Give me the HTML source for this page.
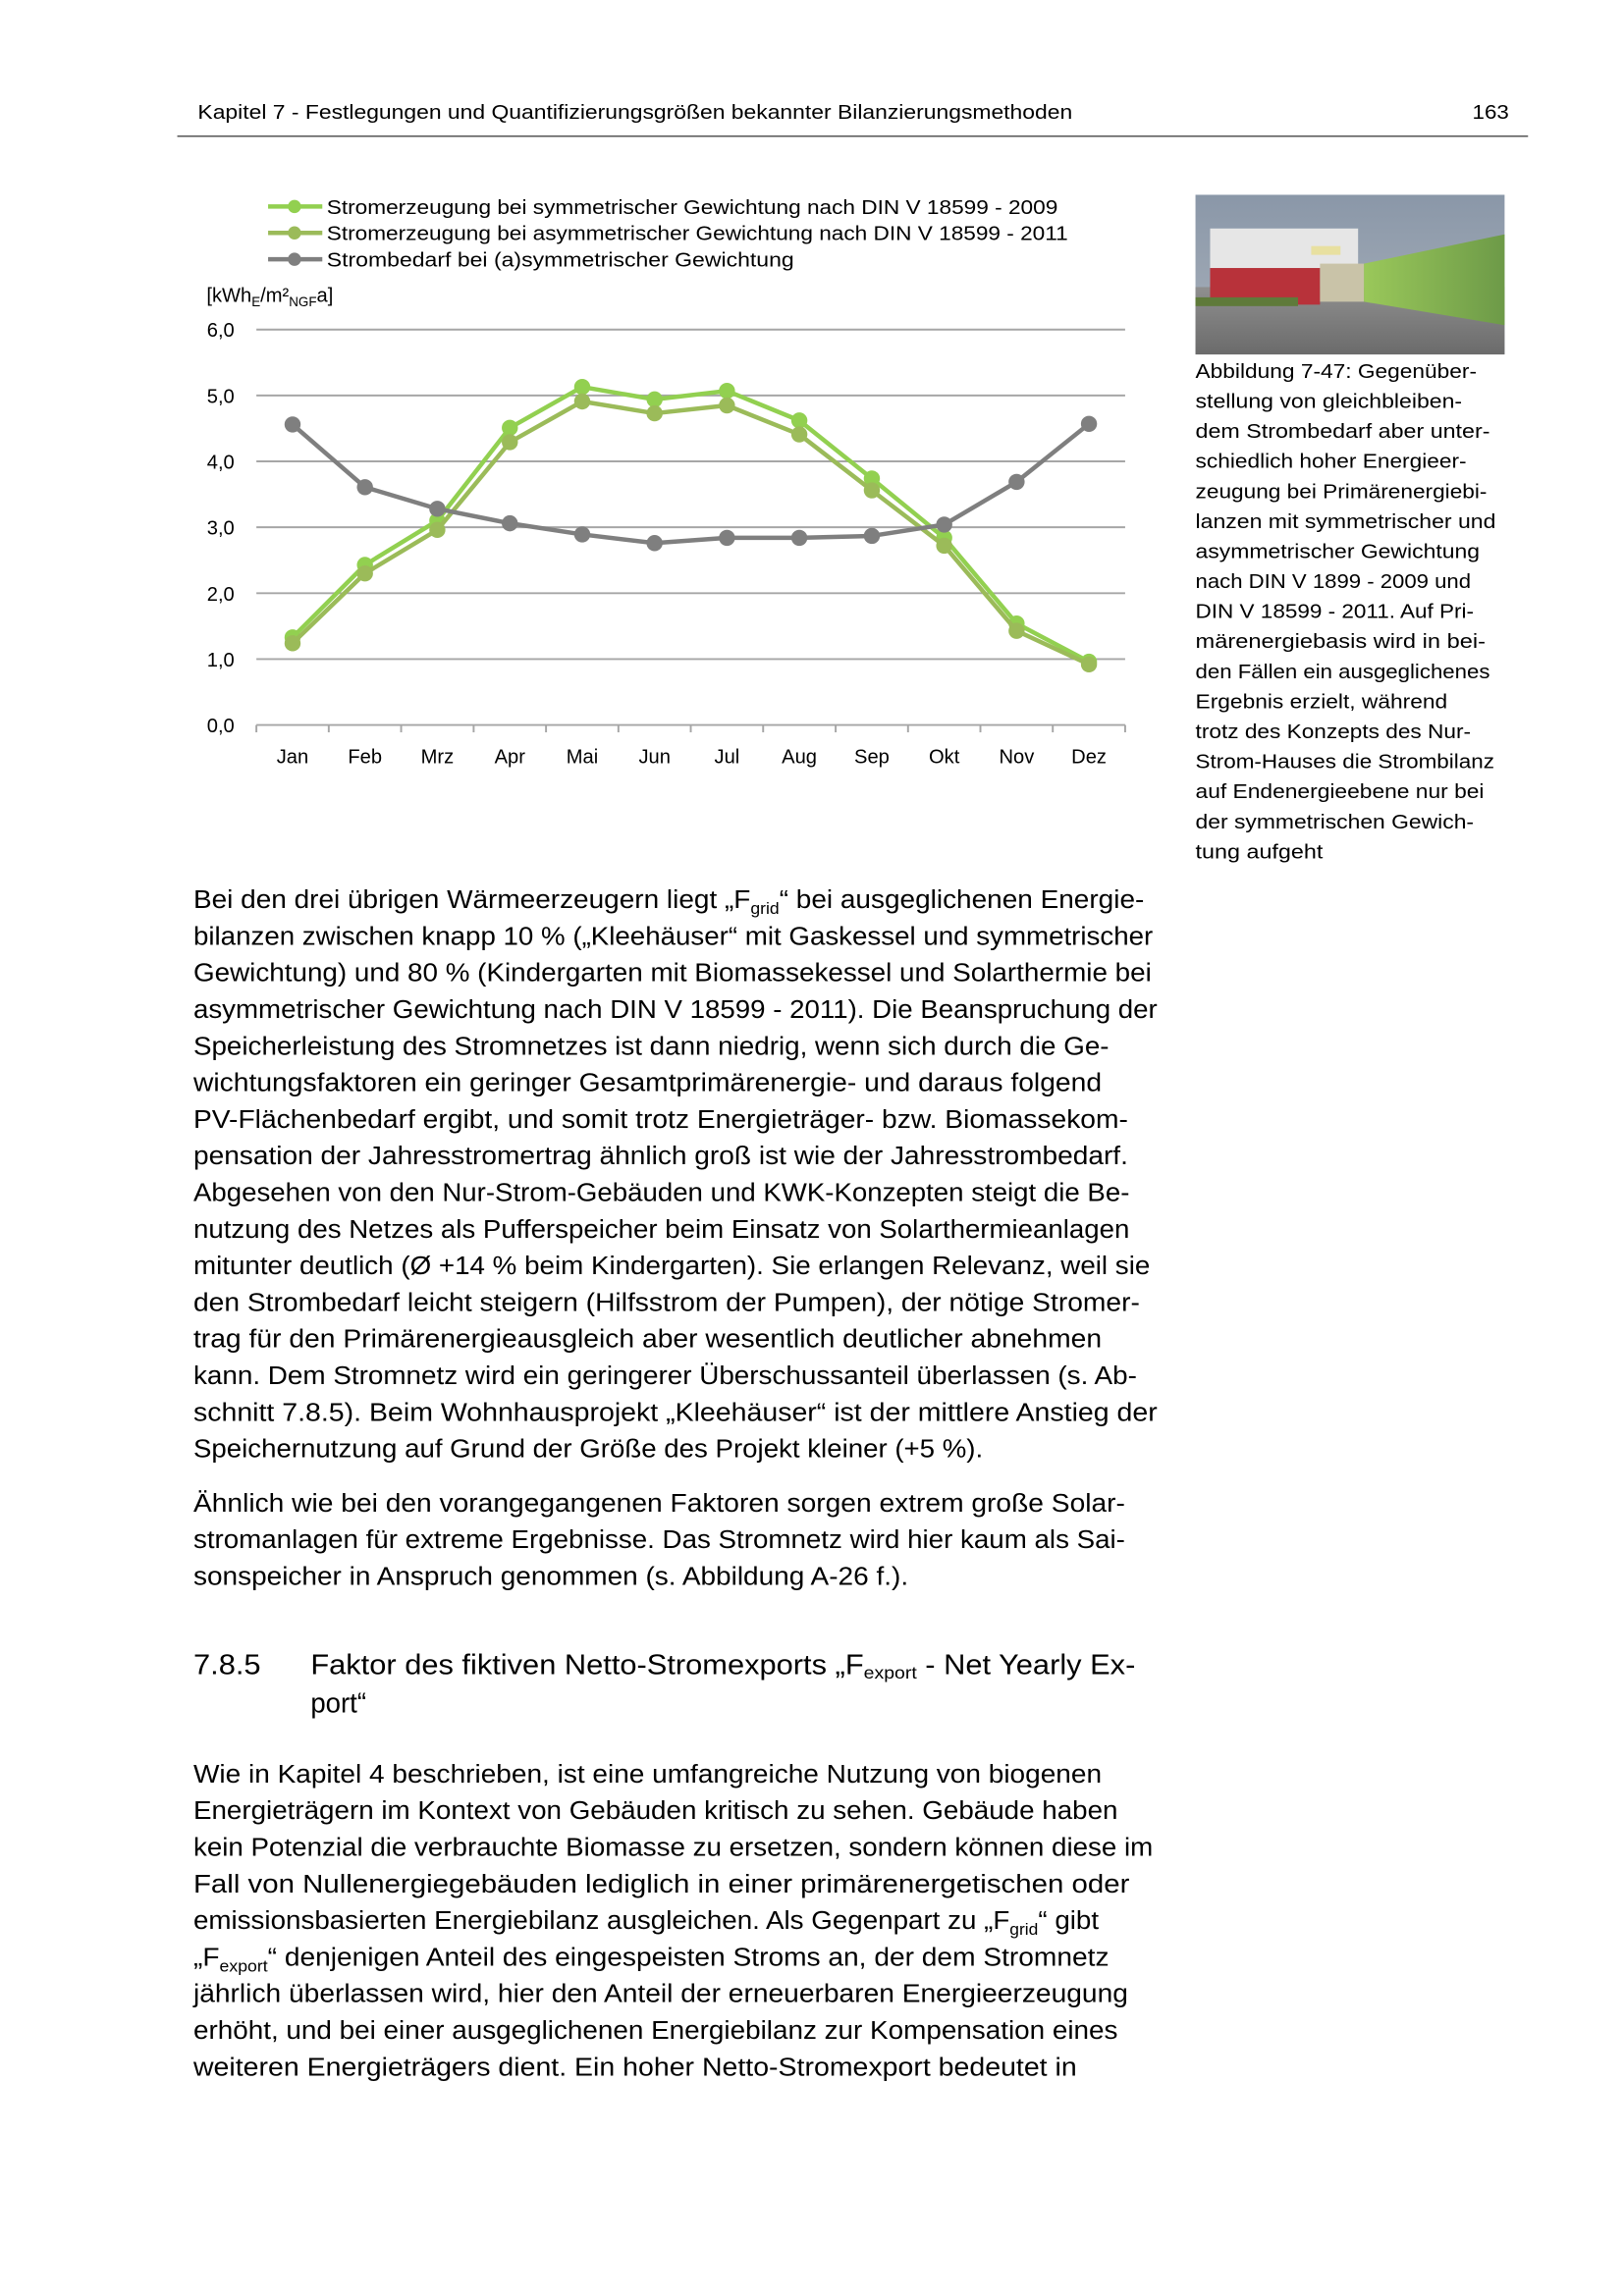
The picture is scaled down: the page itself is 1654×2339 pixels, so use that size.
<!DOCTYPE html>
<html><head><meta charset="utf-8"><style>html,body{margin:0;padding:0;background:#fff}svg{display:block}</style></head>
<body>
<svg xmlns="http://www.w3.org/2000/svg" width="1654" height="2339" viewBox="0 0 1108.5 1567.6" font-family="'Liberation Sans', sans-serif" fill="#000">
<defs>
<linearGradient id="sky" x1="0" y1="0" x2="0" y2="1"><stop offset="0" stop-color="#8a97a8"/><stop offset="1" stop-color="#a9b1bb"/></linearGradient>
<linearGradient id="grn" x1="0" y1="0" x2="1" y2="0"><stop offset="0" stop-color="#9ac85a"/><stop offset="1" stop-color="#6d9a48"/></linearGradient>
<linearGradient id="gnd" x1="0" y1="0" x2="0" y2="1"><stop offset="0" stop-color="#8f8f8f"/><stop offset="1" stop-color="#6b6b6b"/></linearGradient>
</defs>
<text x="135" y="81" font-size="13.5" textLength="597" lengthAdjust="spacingAndGlyphs">Kapitel 7 - Festlegungen und Quantifizierungsgrößen bekannter Bilanzierungsmethoden</text>
<text x="1005" y="81" font-size="13.5" textLength="25" lengthAdjust="spacingAndGlyphs">163</text>
<line x1="121" y1="93" x2="1043" y2="93" stroke="#555" stroke-width="1"/>

<g stroke-width="3">
<line x1="183" y1="141" x2="220" y2="141" stroke="#92d050"/><circle cx="201" cy="141" r="4.5" fill="#92d050"/>
<line x1="183" y1="159" x2="220" y2="159" stroke="#9bbb59"/><circle cx="201" cy="159" r="4.5" fill="#9bbb59"/>
<line x1="183" y1="177" x2="220" y2="177" stroke="#7f7f7f"/><circle cx="201" cy="177" r="4.5" fill="#7f7f7f"/>
</g>
<g font-size="13.5">
<text x="223" y="146" textLength="499" lengthAdjust="spacingAndGlyphs">Stromerzeugung bei symmetrischer Gewichtung nach DIN V 18599 - 2009</text>
<text x="223" y="164" textLength="506" lengthAdjust="spacingAndGlyphs">Stromerzeugung bei asymmetrischer Gewichtung nach DIN V 18599 - 2011</text>
<text x="223" y="182" textLength="319" lengthAdjust="spacingAndGlyphs">Strombedarf bei (a)symmetrischer Gewichtung</text>
<text x="141" y="206" font-size="13.5">[kWh<tspan font-size="9" dy="3">E</tspan><tspan dy="-3">/m²</tspan><tspan font-size="9" dy="3">NGF</tspan><tspan dy="-3">a]</tspan></text>
</g>
<g stroke="#a6a6a6" stroke-width="1.3">
<line x1="175" y1="225" x2="768" y2="225"/><line x1="175" y1="270" x2="768" y2="270"/><line x1="175" y1="315" x2="768" y2="315"/><line x1="175" y1="360" x2="768" y2="360"/><line x1="175" y1="405" x2="768" y2="405"/><line x1="175" y1="450" x2="768" y2="450"/>
<line x1="175" y1="495" x2="768" y2="495"/>
<line x1="175" y1="495" x2="175" y2="500"/><line x1="224.4" y1="495" x2="224.4" y2="500"/><line x1="273.8" y1="495" x2="273.8" y2="500"/><line x1="323.3" y1="495" x2="323.3" y2="500"/><line x1="372.7" y1="495" x2="372.7" y2="500"/><line x1="422.1" y1="495" x2="422.1" y2="500"/><line x1="471.5" y1="495" x2="471.5" y2="500"/><line x1="520.9" y1="495" x2="520.9" y2="500"/><line x1="570.4" y1="495" x2="570.4" y2="500"/><line x1="619.8" y1="495" x2="619.8" y2="500"/><line x1="669.2" y1="495" x2="669.2" y2="500"/><line x1="718.6" y1="495" x2="718.6" y2="500"/><line x1="768" y1="495" x2="768" y2="500"/>
</g>
<g font-size="13.5" text-anchor="end">
<text x="160" y="230">6,0</text><text x="160" y="275">5,0</text><text x="160" y="320">4,0</text><text x="160" y="365">3,0</text><text x="160" y="410">2,0</text><text x="160" y="455">1,0</text><text x="160" y="500">0,0</text>
</g>
<g font-size="13.5" text-anchor="middle">
<text x="199.7" y="521">Jan</text><text x="249.1" y="521">Feb</text><text x="298.5" y="521">Mrz</text><text x="348" y="521">Apr</text><text x="397.4" y="521">Mai</text><text x="446.8" y="521">Jun</text><text x="496.2" y="521">Jul</text><text x="545.6" y="521">Aug</text><text x="595.1" y="521">Sep</text><text x="644.5" y="521">Okt</text><text x="693.9" y="521">Nov</text><text x="743.3" y="521">Dez</text>
</g>
<polyline fill="none" stroke-width="3" stroke-linejoin="round" stroke="#92d050" points="199.7,435.2 249.1,385.7 298.5,355.5 348,292.1 397.4,264.2 446.8,272.7 496.2,266.9 545.6,287.1 595.1,326.7 644.5,367.2 693.9,425.7 743.3,451.8"/>
<g fill="#92d050">
<circle cx="199.7" cy="435.2" r="5.5"/><circle cx="249.1" cy="385.7" r="5.5"/><circle cx="298.5" cy="355.5" r="5.5"/><circle cx="348" cy="292.1" r="5.5"/><circle cx="397.4" cy="264.2" r="5.5"/><circle cx="446.8" cy="272.7" r="5.5"/><circle cx="496.2" cy="266.9" r="5.5"/><circle cx="545.6" cy="287.1" r="5.5"/><circle cx="595.1" cy="326.7" r="5.5"/><circle cx="644.5" cy="367.2" r="5.5"/><circle cx="693.9" cy="425.7" r="5.5"/><circle cx="743.3" cy="451.8" r="5.5"/>
</g>
<polyline fill="none" stroke-width="3" stroke-linejoin="round" stroke="#9bbb59" points="199.7,439.2 249.1,391.5 298.5,361.8 348,301.9 397.4,274.1 446.8,282.2 496.2,276.8 545.6,296.6 595.1,334.8 644.5,372.6 693.9,430.7 743.3,453.6"/>
<g fill="#9bbb59">
<circle cx="199.7" cy="439.2" r="5.5"/><circle cx="249.1" cy="391.5" r="5.5"/><circle cx="298.5" cy="361.8" r="5.5"/><circle cx="348" cy="301.9" r="5.5"/><circle cx="397.4" cy="274.1" r="5.5"/><circle cx="446.8" cy="282.2" r="5.5"/><circle cx="496.2" cy="276.8" r="5.5"/><circle cx="545.6" cy="296.6" r="5.5"/><circle cx="595.1" cy="334.8" r="5.5"/><circle cx="644.5" cy="372.6" r="5.5"/><circle cx="693.9" cy="430.7" r="5.5"/><circle cx="743.3" cy="453.6" r="5.5"/>
</g>
<polyline fill="none" stroke-width="3" stroke-linejoin="round" stroke="#7f7f7f" points="199.7,289.8 249.1,332.6 298.5,347.4 348,357.3 397.4,364.9 446.8,370.8 496.2,367.2 545.6,367.2 595.1,365.9 644.5,358.2 693.9,329 743.3,289.4"/>
<g fill="#7f7f7f">
<circle cx="199.7" cy="289.8" r="5.5"/><circle cx="249.1" cy="332.6" r="5.5"/><circle cx="298.5" cy="347.4" r="5.5"/><circle cx="348" cy="357.3" r="5.5"/><circle cx="397.4" cy="364.9" r="5.5"/><circle cx="446.8" cy="370.8" r="5.5"/><circle cx="496.2" cy="367.2" r="5.5"/><circle cx="545.6" cy="367.2" r="5.5"/><circle cx="595.1" cy="365.9" r="5.5"/><circle cx="644.5" cy="358.2" r="5.5"/><circle cx="693.9" cy="329" r="5.5"/><circle cx="743.3" cy="289.4" r="5.5"/>
</g>

<rect x="816" y="133" width="211" height="109" fill="url(#sky)"/>
<rect x="816" y="196" width="211" height="46" fill="url(#gnd)"/>
<rect x="826" y="156" width="101" height="27" fill="#e6e6e6"/>
<rect x="826" y="183" width="75" height="25" fill="#b8323a"/>
<rect x="901" y="180" width="30" height="26" fill="#c9c3a8"/>
<polygon points="931,180 1027,160 1027,222 931,206" fill="url(#grn)"/>
<rect x="895" y="168" width="20" height="6" fill="#e8e0a0"/>
<rect x="816" y="203" width="70" height="6" fill="#5f7a3a"/>

<g font-size="13.6">
<text x="816" y="258" textLength="192" lengthAdjust="spacingAndGlyphs">Abbildung 7-47: Gegenüber-</text>
<text x="816" y="278.5" textLength="182" lengthAdjust="spacingAndGlyphs">stellung von gleichbleiben-</text>
<text x="816" y="299" textLength="201" lengthAdjust="spacingAndGlyphs">dem Strombedarf aber unter-</text>
<text x="816" y="319.5" textLength="185" lengthAdjust="spacingAndGlyphs">schiedlich hoher Energieer-</text>
<text x="816" y="340" textLength="199" lengthAdjust="spacingAndGlyphs">zeugung bei Primärenergiebi-</text>
<text x="816" y="360.5" textLength="205" lengthAdjust="spacingAndGlyphs">lanzen mit symmetrischer und</text>
<text x="816" y="381" textLength="194" lengthAdjust="spacingAndGlyphs">asymmetrischer Gewichtung</text>
<text x="816" y="401.5" textLength="188" lengthAdjust="spacingAndGlyphs">nach DIN V 1899 - 2009 und</text>
<text x="816" y="422" textLength="190" lengthAdjust="spacingAndGlyphs">DIN V 18599 - 2011. Auf Pri-</text>
<text x="816" y="442.5" textLength="198" lengthAdjust="spacingAndGlyphs">märenergiebasis wird in bei-</text>
<text x="816" y="463" textLength="201" lengthAdjust="spacingAndGlyphs">den Fällen ein ausgeglichenes</text>
<text x="816" y="483.5" textLength="172" lengthAdjust="spacingAndGlyphs">Ergebnis erzielt, während</text>
<text x="816" y="504" textLength="188" lengthAdjust="spacingAndGlyphs">trotz des Konzepts des Nur-</text>
<text x="816" y="524.5" textLength="204" lengthAdjust="spacingAndGlyphs">Strom-Hauses die Strombilanz</text>
<text x="816" y="545" textLength="197" lengthAdjust="spacingAndGlyphs">auf Endenergieebene nur bei</text>
<text x="816" y="565.5" textLength="190" lengthAdjust="spacingAndGlyphs">der symmetrischen Gewich-</text>
<text x="816" y="586" textLength="87" lengthAdjust="spacingAndGlyphs">tung aufgeht</text>
</g>

<g font-size="17.5">
<text x="132" y="620" textLength="649" lengthAdjust="spacingAndGlyphs">Bei den drei übrigen Wärmeerzeugern liegt „F<tspan font-size="11" dy="4">grid</tspan><tspan dy="-4">“ bei ausgeglichenen Energie-</tspan></text>
<text x="132" y="645" textLength="655" lengthAdjust="spacingAndGlyphs">bilanzen zwischen knapp 10 % („Kleehäuser“ mit Gaskessel und symmetrischer</text>
<text x="132" y="670" textLength="654" lengthAdjust="spacingAndGlyphs">Gewichtung) und 80 % (Kindergarten mit Biomassekessel und Solarthermie bei</text>
<text x="132" y="695" textLength="658" lengthAdjust="spacingAndGlyphs">asymmetrischer Gewichtung nach DIN V 18599 - 2011). Die Beanspruchung der</text>
<text x="132" y="720" textLength="625" lengthAdjust="spacingAndGlyphs">Speicherleistung des Stromnetzes ist dann niedrig, wenn sich durch die Ge-</text>
<text x="132" y="745" textLength="620" lengthAdjust="spacingAndGlyphs">wichtungsfaktoren ein geringer Gesamtprimärenergie- und daraus folgend</text>
<text x="132" y="770" textLength="638" lengthAdjust="spacingAndGlyphs">PV-Flächenbedarf ergibt, und somit trotz Energieträger- bzw. Biomassekom-</text>
<text x="132" y="795" textLength="638" lengthAdjust="spacingAndGlyphs">pensation der Jahresstromertrag ähnlich groß ist wie der Jahresstrombedarf.</text>
<text x="132" y="820" textLength="639" lengthAdjust="spacingAndGlyphs">Abgesehen von den Nur-Strom-Gebäuden und KWK-Konzepten steigt die Be-</text>
<text x="132" y="845" textLength="639" lengthAdjust="spacingAndGlyphs">nutzung des Netzes als Pufferspeicher beim Einsatz von Solarthermieanlagen</text>
<text x="132" y="870" textLength="653" lengthAdjust="spacingAndGlyphs">mitunter deutlich (Ø +14 % beim Kindergarten). Sie erlangen Relevanz, weil sie</text>
<text x="132" y="895" textLength="646" lengthAdjust="spacingAndGlyphs">den Strombedarf leicht steigern (Hilfsstrom der Pumpen), der nötige Stromer-</text>
<text x="132" y="920" textLength="620" lengthAdjust="spacingAndGlyphs">trag für den Primärenergieausgleich aber wesentlich deutlicher abnehmen</text>
<text x="132" y="945" textLength="644" lengthAdjust="spacingAndGlyphs">kann. Dem Stromnetz wird ein geringerer Überschussanteil überlassen (s. Ab-</text>
<text x="132" y="970" textLength="658" lengthAdjust="spacingAndGlyphs">schnitt 7.8.5). Beim Wohnhausprojekt „Kleehäuser“ ist der mittlere Anstieg der</text>
<text x="132" y="995" textLength="539" lengthAdjust="spacingAndGlyphs">Speichernutzung auf Grund der Größe des Projekt kleiner (+5 %).</text>

<text x="132" y="1032" textLength="636" lengthAdjust="spacingAndGlyphs">Ähnlich wie bei den vorangegangenen Faktoren sorgen extrem große Solar-</text>
<text x="132" y="1057" textLength="636" lengthAdjust="spacingAndGlyphs">stromanlagen für extreme Ergebnisse. Das Stromnetz wird hier kaum als Sai-</text>
<text x="132" y="1082" textLength="488" lengthAdjust="spacingAndGlyphs">sonspeicher in Anspruch genommen (s. Abbildung A-26 f.).</text>

<text x="132" y="1143" font-size="19" textLength="46" lengthAdjust="spacingAndGlyphs">7.8.5</text>
<text x="212" y="1143" font-size="19" textLength="563" lengthAdjust="spacingAndGlyphs">Faktor des fiktiven Netto-Stromexports „F<tspan font-size="12" dy="3">export</tspan><tspan dy="-3"> - Net Yearly Ex-</tspan></text>
<text x="212" y="1169" font-size="19" textLength="38" lengthAdjust="spacingAndGlyphs">port“</text>

<text x="132" y="1217" textLength="620" lengthAdjust="spacingAndGlyphs">Wie in Kapitel 4 beschrieben, ist eine umfangreiche Nutzung von biogenen</text>
<text x="132" y="1242" textLength="631" lengthAdjust="spacingAndGlyphs">Energieträgern im Kontext von Gebäuden kritisch zu sehen. Gebäude haben</text>
<text x="132" y="1267" textLength="655" lengthAdjust="spacingAndGlyphs">kein Potenzial die verbrauchte Biomasse zu ersetzen, sondern können diese im</text>
<text x="132" y="1292" textLength="639" lengthAdjust="spacingAndGlyphs">Fall von Nullenergiegebäuden lediglich in einer primärenergetischen oder</text>
<text x="132" y="1317" textLength="618" lengthAdjust="spacingAndGlyphs">emissionsbasierten Energiebilanz ausgleichen. Als Gegenpart zu „F<tspan font-size="11" dy="4">grid</tspan><tspan dy="-4">“ gibt</tspan></text>
<text x="132" y="1342" textLength="625" lengthAdjust="spacingAndGlyphs">„F<tspan font-size="11" dy="4">export</tspan><tspan dy="-4">“ denjenigen Anteil des eingespeisten Stroms an, der dem Stromnetz</tspan></text>
<text x="132" y="1367" textLength="638" lengthAdjust="spacingAndGlyphs">jährlich überlassen wird, hier den Anteil der erneuerbaren Energieerzeugung</text>
<text x="132" y="1392" textLength="631" lengthAdjust="spacingAndGlyphs">erhöht, und bei einer ausgeglichenen Energiebilanz zur Kompensation eines</text>
<text x="132" y="1417" textLength="603" lengthAdjust="spacingAndGlyphs">weiteren Energieträgers dient. Ein hoher Netto-Stromexport bedeutet in</text>
</g>
</svg>
</body></html>
